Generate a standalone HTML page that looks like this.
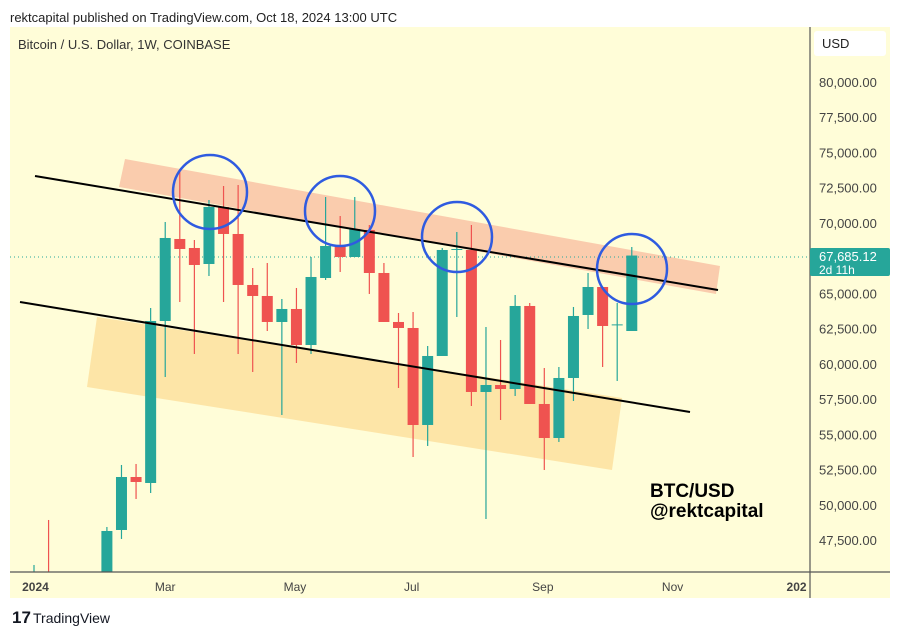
<!DOCTYPE html>
<html><head><meta charset="utf-8">
<style>
html,body{margin:0;padding:0;width:900px;height:635px;overflow:hidden;background:#fff;font-family:"Liberation Sans",sans-serif;}
#wrap{position:relative;width:900px;height:635px;overflow:hidden;}
svg{display:block;}
</style></head>
<body>
<div id="wrap">
<svg id="svg" width="900" height="635" xmlns="http://www.w3.org/2000/svg" style="position:absolute;left:0;top:0">
  <text x="10" y="22" font-size="13" fill="#222">rektcapital published on TradingView.com, Oct 18, 2024 13:00 UTC</text>
  <rect x="10" y="27" width="880" height="571" fill="#fffdd8"/>
  <clipPath id="pc"><rect x="10" y="27" width="800" height="545"/></clipPath>
  <g id="plot" clip-path="url(#pc)">
    <polygon points="125,159 720,266 716,294 119,187" fill="#f9c6a8" opacity="0.9"/>
    <polygon points="97,317 622,398 612,470 87,387" fill="#fde2a2" opacity="0.9"/>
    <line x1="10" y1="257" x2="810" y2="257" stroke="#26a69a" stroke-width="1" stroke-dasharray="1,3"/>
    <g id="candles"></g>
    <line x1="35" y1="176" x2="718" y2="290" stroke="#000" stroke-width="2"/>
    <line x1="20" y1="302" x2="690" y2="412" stroke="#000" stroke-width="2"/>
    <circle cx="210" cy="192" r="37" fill="none" stroke="#2f5be0" stroke-width="2.5"/>
    <circle cx="340" cy="211" r="35" fill="none" stroke="#2f5be0" stroke-width="2.5"/>
    <circle cx="457" cy="237" r="35" fill="none" stroke="#2f5be0" stroke-width="2.5"/>
    <circle cx="632" cy="269" r="35" fill="none" stroke="#2f5be0" stroke-width="2.5"/>
  </g>
  <text x="18" y="49" font-size="13" fill="#333">Bitcoin / U.S. Dollar, 1W, COINBASE</text>
  <text x="650" y="497" font-size="19" font-weight="bold" fill="#000">BTC/USD</text>
  <text x="650" y="517" font-size="19" font-weight="bold" fill="#000">@rektcapital</text>
  <line x1="810" y1="27" x2="810" y2="598" stroke="#555" stroke-width="1.2"/>
  <line x1="10" y1="572" x2="890" y2="572" stroke="#555" stroke-width="1.2"/>
  <rect x="814" y="31" width="72" height="25" rx="3" fill="#fff"/>
  <text x="822" y="48" font-size="13" fill="#222">USD</text>
  <g id="yticks"></g>
  <g id="xticks"></g>
  <rect x="810" y="248" width="80" height="28" rx="2" fill="#26a69a"/>
  <text x="819" y="261" font-size="13" fill="#fff">67,685.12</text>
  <text x="819" y="274" font-size="12" fill="#fff">2d 11h</text>
  <text x="12" y="623" font-size="17" font-weight="bold" fill="#131722">17</text>
  <text x="33" y="623" font-size="14" fill="#131722">TradingView</text>
</svg>
</div>
<script>
const opens =  [42300,43900,41800,42500,43000,43000,48210,51970,51545,63041,68860,68221,67086,71132,69215,65596,64815,62970,63893,61338,66092,68363,67582,69499,66447,62970,62544,55661,60557,68079,68079,58003,58499,58215,64106,57151,54738,58996,63467,65453,62757,62331];
const highs =  [45727,48920,43000,43500,44000,48423,52823,52894,63964,70066,73614,68789,71627,72621,72692,66802,67157,64602,65383,67582,71840,70492,71840,69853,67157,63609,63680,61267,68221,69356,69853,62615,61693,64886,64318,59705,59776,64035,66447,65453,64318,68292];
const lows =   [41000,38500,38500,41500,41000,42800,47572,50410,50835,59067,64389,60699,66234,64389,60699,59422,62331,56371,60060,60699,65950,66518,67582,64957,62970,58287,53391,54172,60557,63325,57010,48990,56016,57719,57151,52468,54456,57364,62473,59776,58784,62331];
const closes = [43900,41800,42500,43000,43000,48139,51970,51616,63041,68931,68150,67015,71132,69215,65596,64815,62970,63893,61338,66163,68363,67582,69569,66447,62970,62544,55661,60557,68079,68150,58003,58499,58215,64106,57151,54738,58996,63396,65453,62686,62800,67685];
const priceTicks = [80000,77500,75000,72500,70000,65000,62500,60000,57500,55000,52500,50000,47500];
const timeLabels = ["2024","Mar","May","Jul","Sep","Nov","202"];
const timeWeeks = [0.1,9,17.9,25.9,34.9,43.8,52.3];

function y(p){return 82+(80000-p)/2500*35.23;}
function yc(p){return Math.min(572,Math.max(27,y(p)));}
function x(i){return 34+i*14.58;}
const NS="http://www.w3.org/2000/svg";
const cg=document.getElementById('candles');
for(let i=0;i<opens.length;i++){
  const up=closes[i]>=opens[i];
  const col=up?'#26a69a':'#ef5350';
  const g=document.createElementNS(NS,'g');
  
  
  const w=document.createElementNS(NS,'line');
  w.setAttribute('x1',x(i));w.setAttribute('x2',x(i));
  w.setAttribute('y1',yc(highs[i]));w.setAttribute('y2',yc(lows[i]));
  w.setAttribute('stroke',col);w.setAttribute('stroke-width','1.2');
  
  
  g.appendChild(w);
  const t=yc(Math.max(opens[i],closes[i])), b=yc(Math.min(opens[i],closes[i]));
  if(t<572){
    const r=document.createElementNS(NS,'rect');
    r.setAttribute('x',x(i)-5.5);r.setAttribute('width',11);
    r.setAttribute('y',t);r.setAttribute('height',Math.max(1,b-t));
    r.setAttribute('fill',col);
    
    
    g.appendChild(r);
  }
  cg.appendChild(g);
}
const yg=document.getElementById('yticks');
priceTicks.forEach(p=>{
  const t=document.createElementNS(NS,'text');
  t.setAttribute('x',819);t.setAttribute('y',y(p)+5);
  t.setAttribute('font-size','13');t.setAttribute('fill','#444');
  t.textContent=p.toLocaleString('en-US')+'.00';
  
  
  yg.appendChild(t);
});
const xg=document.getElementById('xticks');
timeLabels.forEach((l,k)=>{
  const t=document.createElementNS(NS,'text');
  t.setAttribute('x',x(timeWeeks[k]));t.setAttribute('y',591);
  t.setAttribute('font-size','12');t.setAttribute('fill','#444');
  t.setAttribute('text-anchor','middle');
  if(k==0||k==6)t.setAttribute('font-weight','bold');
  t.textContent=l;
  
  
  xg.appendChild(t);
});
</script>
</body></html>
